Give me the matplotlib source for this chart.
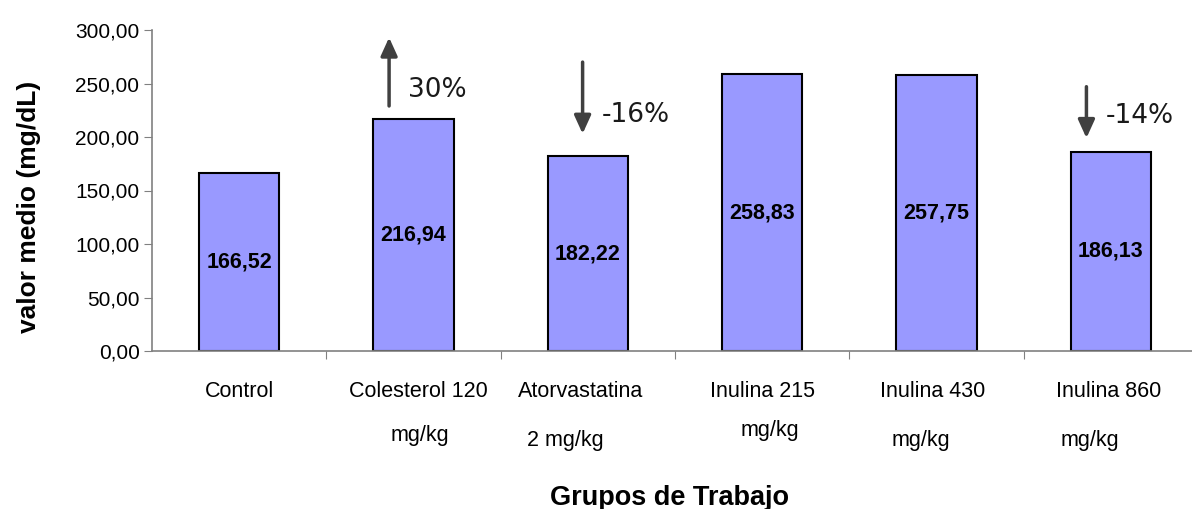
import matplotlib
matplotlib.use("Agg")
import matplotlib.pyplot as plt

# Data
line1 = ["Control", "Colesterol 120", "Atorvastatina", "Inulina 215", "Inulina 430", "Inulina 860"]
line2 = ["", "mg/kg", "2 mg/kg", "mg/kg", "mg/kg", "mg/kg"]
values = [166.52, 216.94, 182.22, 258.83, 257.75, 186.13]
value_labels = ["166,52", "216,94", "182,22", "258,83", "257,75", "186,13"]
yticks = [0, 50, 100, 150, 200, 250, 300]
ytick_labels = ["0,00", "50,00", "100,00", "150,00", "200,00", "250,00", "300,00"]
pct_labels = ["30%", "-16%", "-14%"]
pct_groups = [1, 2, 5]

# layout offsets (positions only)
line1_dx = [0.0, 0.03, -0.04, 0.0, -0.02, -0.01]
line2_dx = [0.0, 0.035, -0.13, 0.045, -0.09, -0.12]
line2_y = [0.0, -0.262, -0.278, -0.247, -0.278, -0.278]
arrow_dx = [-0.14, -0.03, -0.14]
arrow_y0 = [229, 270, 247]
arrow_y1 = [293, 203, 199]
text_y = [244, 221, 220]

plt.rcParams['font.family'] = ['Liberation Sans', 'DejaVu Sans']

fig = plt.figure(figsize=(11.92, 5.09), dpi=100)
ax = fig.add_axes([152/1192, 158/509, 1046/1192, 321/509])

x = list(range(len(values)))
ax.bar(x, values, width=0.46, color="#9999FF", edgecolor="black", linewidth=1.5, zorder=2)

for xi, v, lab in zip(x, values, value_labels):
    ax.text(xi, v / 2, lab, ha="center", va="center", fontsize=15.5, fontweight="bold", zorder=3)

ax.set_xlim(-0.5, len(values) - 0.5)
ax.set_ylim(0, 300)
ax.set_yticks(yticks)
ax.set_yticklabels(ytick_labels, fontsize=15)
ax.set_xticks([i + 0.5 for i in range(len(values) - 1)])
ax.set_xticklabels([])
ax.tick_params(axis="x", length=6, color="#808080", direction="out")
ax.tick_params(axis="y", length=6, color="#808080", direction="out", pad=3)

for s in ["top", "right"]:
    ax.spines[s].set_visible(False)
for s in ["left", "bottom"]:
    ax.spines[s].set_color("#808080")
    ax.spines[s].set_linewidth(1.2)

trans = ax.get_xaxis_transform()
for i in x:
    ax.text(i + line1_dx[i], -0.125, line1[i], transform=trans, ha="center", va="center", fontsize=15.5)
    if line2[i]:
        ax.text(i + line2_dx[i], line2_y[i], line2[i], transform=trans, ha="center", va="center", fontsize=15.5)

for g, lab, adx, y0, y1, ty in zip(pct_groups, pct_labels, arrow_dx, arrow_y0, arrow_y1, text_y):
    ax.annotate("", xy=(g + adx, y1), xytext=(g + adx, y0),
                arrowprops=dict(arrowstyle="-|>,head_width=0.5,head_length=1.1", color="#404040", lw=2.5,
                                shrinkA=0, shrinkB=0), annotation_clip=False)
    ax.text(g + adx + 0.11, ty, lab, ha="left", va="center", fontsize=19, family="DejaVu Sans", color="#1a1a1a")

ax.set_ylabel("valor medio (mg/dL)", fontsize=19, fontweight="bold", va="center")
ax.yaxis.set_label_coords(-0.1176, 0.449)
fig.text(0.562, 0.022, "Grupos de Trabajo", ha="center", va="center", fontsize=19.5, fontweight="bold")

fig.savefig("out.png", dpi=100)
